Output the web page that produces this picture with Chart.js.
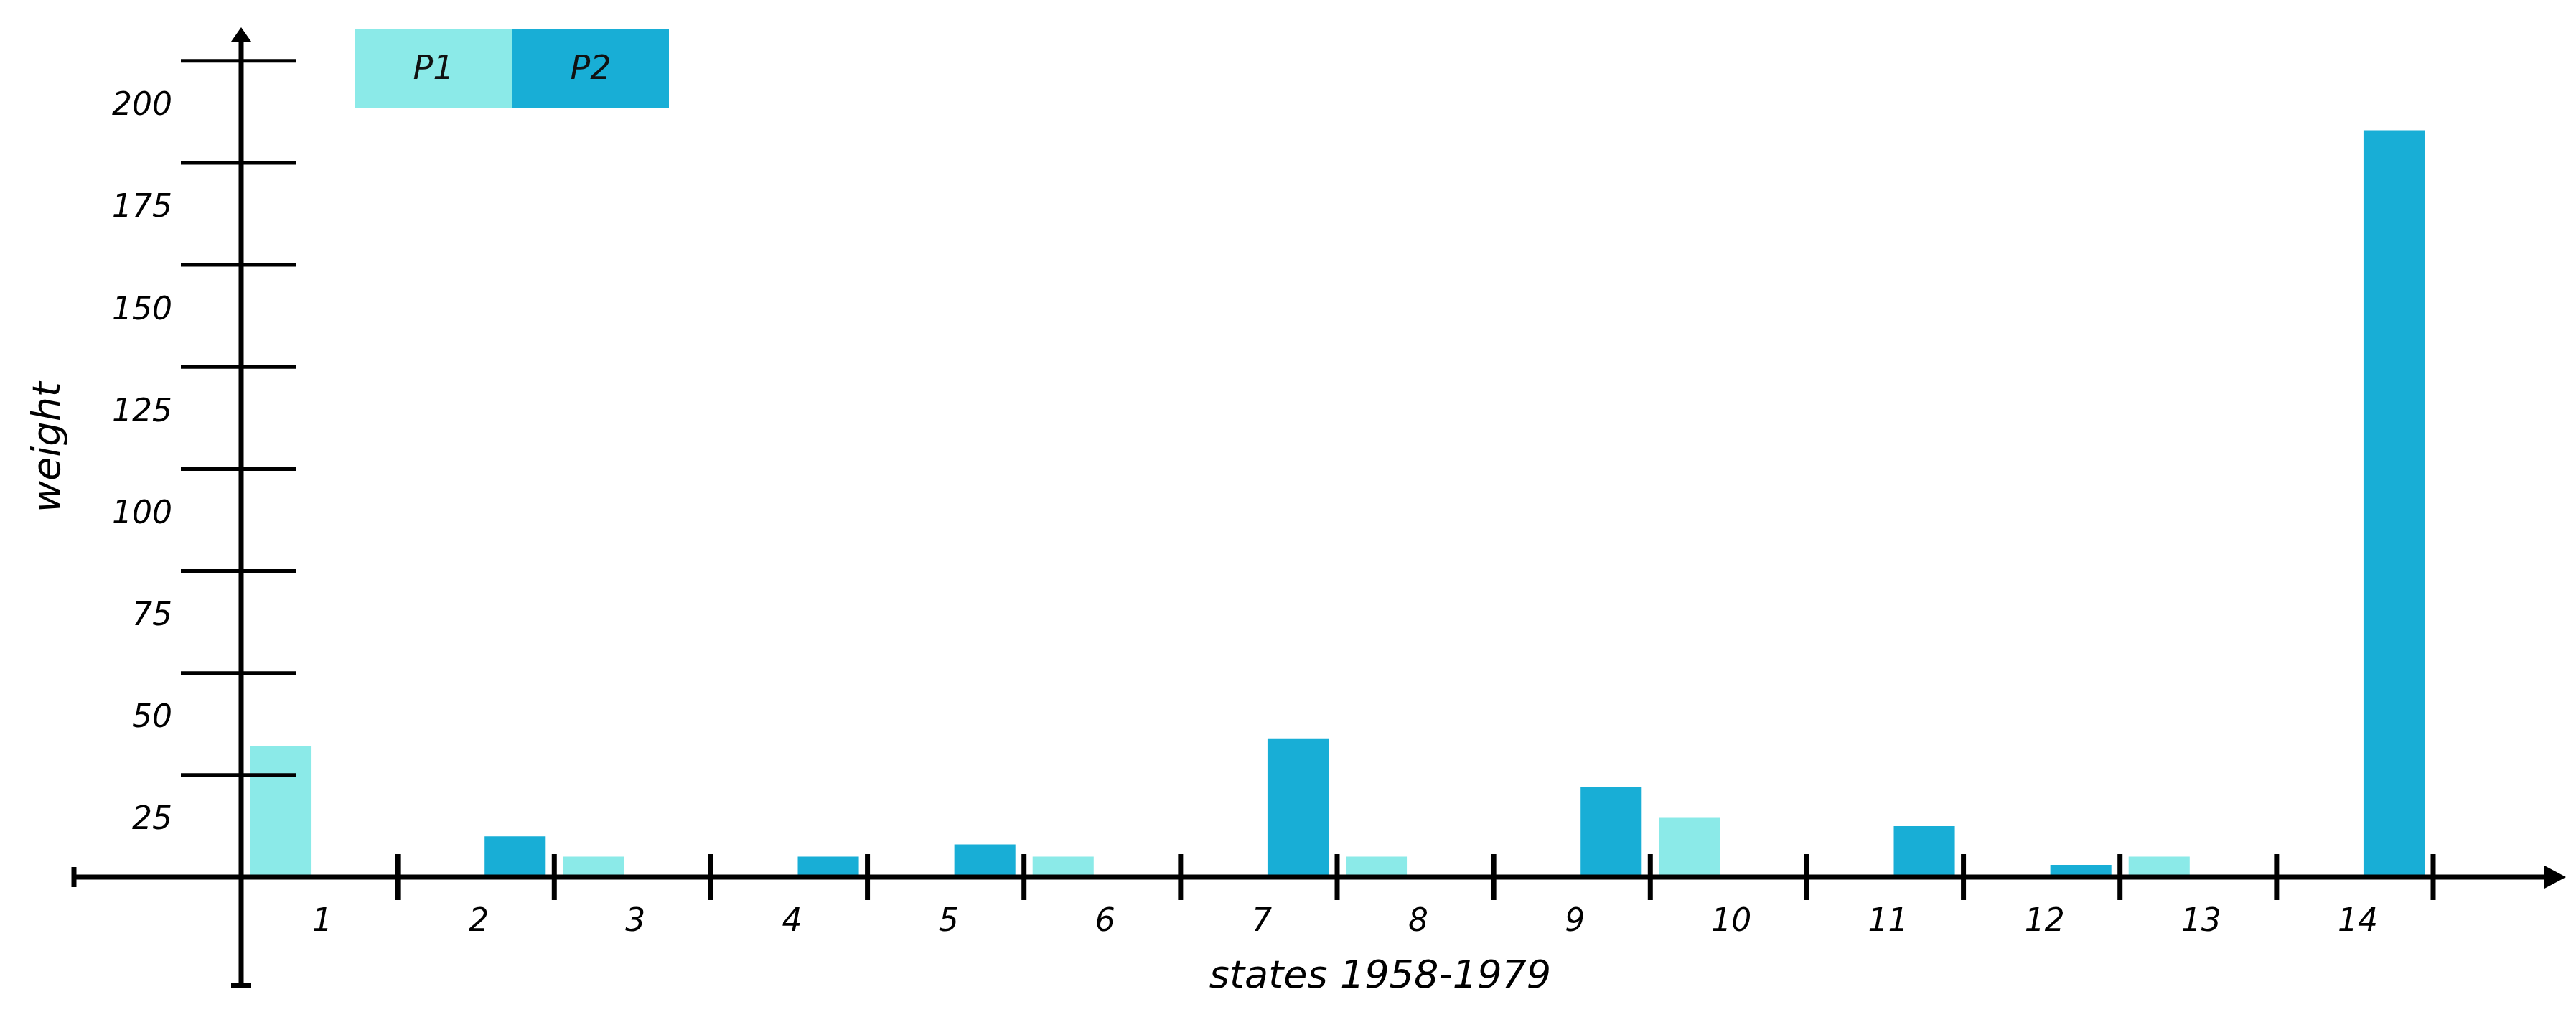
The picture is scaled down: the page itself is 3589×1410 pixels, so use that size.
<!DOCTYPE html>
<html>
<head>
<meta charset="utf-8">
<script src="https://cdn.jsdelivr.net/npm/chart.js@4/dist/chart.umd.min.js"></script>
<style>
  html, body { margin: 0; padding: 0; background: #fff; }
  #wrap { width: 3589px; height: 1410px; }
</style>
</head>
<body>
<div id="wrap"><canvas id="chart"></canvas></div>
<script>
const categories = ["1", "2", "3", "4", "5", "6", "7", "8", "9", "10", "11", "12", "13", "14"];
const p1Values = [32, null, 5, null, null, 5, null, 5, null, 14.5, null, null, 5, null];
const p2Values = [null, 10, null, 5, 8, null, 34, null, 22, null, 12.5, 3, null, 183];
const yTicks = [25, 50, 75, 100, 125, 150, 175, 200];
const seriesNames = ["P1", "P2"];
const seriesColors = ["#8BEAE8", "#18AED6"];

const FONT = "DejaVu Sans";

// draws hand-drawn looking axes, ticks, labels and the block legend
const axesPlugin = {
  id: "axesPlugin",
  afterDraw(chart) {
    const ctx = chart.ctx;
    const x = chart.scales.x;
    const y = chart.scales.y;
    const x0 = chart.chartArea.left;
    const y0 = y.getPixelForValue(0);
    ctx.save();
    ctx.strokeStyle = "#000";
    ctx.fillStyle = "#000";
    ctx.lineWidth = 7;

    // y axis with arrow
    ctx.beginPath();
    ctx.moveTo(x0, 1373);
    ctx.lineTo(x0, 48);
    ctx.stroke();
    ctx.beginPath();
    ctx.moveTo(x0 - 14, 58);
    ctx.lineTo(x0, 38);
    ctx.lineTo(x0 + 14, 58);
    ctx.closePath();
    ctx.fill();
    ctx.beginPath();
    ctx.moveTo(x0 - 14, 1373);
    ctx.lineTo(x0 + 14, 1373);
    ctx.stroke();

    // x axis with arrow
    ctx.beginPath();
    ctx.moveTo(103, y0);
    ctx.lineTo(3560, y0);
    ctx.stroke();
    ctx.beginPath();
    ctx.moveTo(3545, y0 - 16);
    ctx.lineTo(3575, y0);
    ctx.lineTo(3545, y0 + 16);
    ctx.closePath();
    ctx.fill();
    ctx.beginPath();
    ctx.moveTo(103, y0 - 14);
    ctx.lineTo(103, y0 + 14);
    ctx.stroke();

    // y ticks and labels
    ctx.lineWidth = 5;
    ctx.font = "italic 44px " + FONT;
    ctx.textAlign = "right";
    ctx.textBaseline = "middle";
    yTicks.forEach((v) => {
      const py = y.getPixelForValue(v);
      ctx.beginPath();
      ctx.moveTo(252, py);
      ctx.lineTo(412, py);
      ctx.stroke();
      ctx.fillText(String(v), 240, py + 64);
    });

    // x ticks at category boundaries and labels
    ctx.lineWidth = 7;
    ctx.textAlign = "center";
    ctx.textBaseline = "top";
    const step = x.getPixelForValue(1) - x.getPixelForValue(0);
    categories.forEach((c, i) => {
      const cx = x.getPixelForValue(i);
      const bx = cx + step / 2;
      ctx.beginPath();
      ctx.moveTo(bx, y0 - 32);
      ctx.lineTo(bx, y0 + 32);
      ctx.stroke();
      ctx.fillText(c, cx + 4, y0 + 42);
    });

    // axis titles
    ctx.font = "italic 54px 'Liberation Sans Narrow', " + FONT;
    ctx.textBaseline = "middle";
    ctx.fillText("states 1958-1979", 1923, 1362);
    ctx.save();
    ctx.translate(69, 623);
    ctx.rotate(-Math.PI / 2);
    ctx.fillText("weight", 0, 0);
    ctx.restore();

    // legend blocks
    ctx.font = "italic 46px " + FONT;
    seriesNames.forEach((name, i) => {
      const lx = 494 + i * 219;
      ctx.fillStyle = seriesColors[i];
      ctx.fillRect(lx, 41, 219, 110);
      ctx.fillStyle = "#111";
      ctx.fillText(name, lx + 110, 98);
    });
    ctx.restore();
  }
};

new Chart(document.getElementById("chart").getContext("2d"), {
  type: "bar",
  data: {
    labels: categories,
    datasets: seriesNames.map((name, i) => ({
      label: name,
      data: i === 0 ? p1Values : p2Values,
      backgroundColor: seriesColors[i],
      categoryPercentage: 1,
      barPercentage: 0.78
    }))
  },
  options: {
    responsive: true,
    maintainAspectRatio: false,
    animation: false,
    layout: { padding: { left: 336, right: 199, top: 41, bottom: 188 } },
    plugins: { legend: { display: false }, tooltip: { enabled: false } },
    scales: {
      x: { display: false },
      y: { display: false, min: 0, max: 207.7 }
    }
  },
  plugins: [axesPlugin]
});
</script>
</body>
</html>
